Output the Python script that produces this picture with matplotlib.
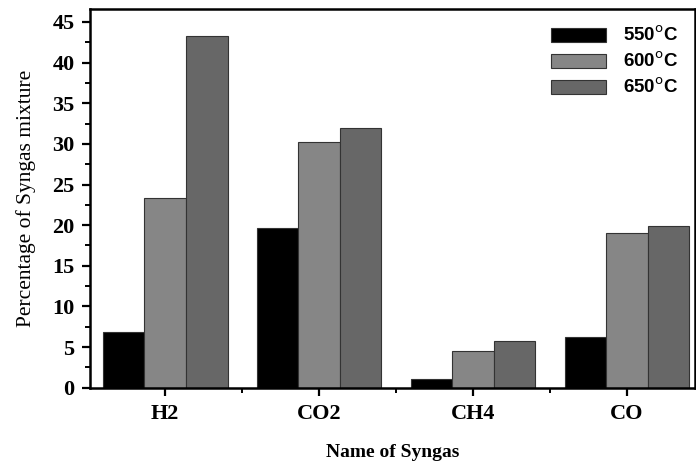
import numpy as np
import matplotlib.pyplot as plt
from matplotlib.ticker import MultipleLocator, FixedLocator

gases = ["H2", "CO2", "CH4", "CO"]
t550 = [6.9, 19.6, 1.1, 6.2]
t600 = [23.3, 30.2, 4.5, 19.0]
t650 = [43.3, 31.9, 5.8, 19.9]
labels = ["550$^{\\mathrm{o}}$C", "600$^{\\mathrm{o}}$C", "650$^{\\mathrm{o}}$C"]
colors = ["#000000", "#868686", "#676767"]

fig = plt.figure(figsize=(6.96, 4.63), dpi=100)
ax = fig.add_axes([0.129, 0.1626, 0.869, 0.818])

x = np.arange(len(gases))
w = 0.27
for i, (vals, lab, col) in enumerate(zip([t550, t600, t650], labels, colors)):
    ax.bar(x + (i - 1) * w, vals, w, color=col, edgecolor="#333333",
           linewidth=0.8, label=lab)

ax.set_xlim(-0.49, 3.44)
ax.set_ylim(0, 46.6)
ax.set_xticks(x)
ax.set_xticklabels(gases, fontfamily="Liberation Serif", fontweight="bold", fontsize=16)
ax.xaxis.set_minor_locator(FixedLocator([0.5, 1.5, 2.5]))
ax.yaxis.set_major_locator(MultipleLocator(5))
ax.yaxis.set_minor_locator(MultipleLocator(2.5))
for lbl in ax.get_yticklabels():
    lbl.set_fontfamily("Liberation Serif")
    lbl.set_fontweight("bold")
    lbl.set_fontsize(16)

ax.tick_params(which="major", direction="out", length=6, width=1.6)
ax.tick_params(which="minor", direction="out", length=3.5, width=1.4)
ax.tick_params(axis="x", which="major", pad=6)
ax.tick_params(axis="y", which="major", pad=5)
for s in ax.spines.values():
    s.set_linewidth(1.8)

ax.set_ylabel("Percentage of Syngas mixture", fontfamily="Liberation Serif",
              fontsize=15.5, labelpad=12)
ax.set_xlabel("Name of Syngas", fontfamily="Liberation Serif",
              fontweight="bold", fontsize=14, labelpad=14)

leg = ax.legend(loc="upper right", bbox_to_anchor=(1.0, 1.0), frameon=False,
                prop={"family": "Liberation Sans", "weight": "bold", "size": 13.5},
                handlelength=2.9, handleheight=0.75, labelspacing=0.35, handletextpad=0.9)

plt.savefig("out.png", dpi=100)
plt.close()
